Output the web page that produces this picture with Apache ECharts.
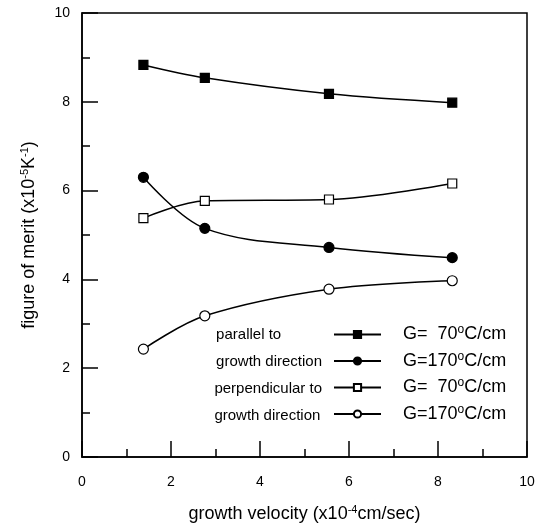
<!DOCTYPE html>
<html>
<head>
<meta charset="utf-8">
<script src="https://cdn.jsdelivr.net/npm/echarts@6/dist/echarts.min.js"></script>
<style>
  html, body { margin: 0; padding: 0; background: #fff; }
  #meritChart { width: 539px; height: 527px; }
</style>
</head>
<body>
<div id="meritChart"></div>
<script type="text/javascript">
// growth velocity (x10^-4 cm/sec)
const velocity = [1.38, 2.76, 5.55, 8.32]
// figure of merit (x10^-5 K^-1)
const parallel70 = [8.83, 8.54, 8.18, 7.98]
const parallel170 = [6.30, 5.15, 4.72, 4.49]
const perpendicular70 = [5.38, 5.77, 5.80, 6.16]
const perpendicular170 = [2.43, 3.18, 3.78, 3.97]
const tickValues = [0, 2, 4, 6, 8, 10]
const seriesNames = ['G=  70{o|o}C/cm', 'G=170{o|o}C/cm', 'G=  70{o|o}C/cm ', 'G=170{o|o}C/cm ']

const font = 'Liberation Sans, Arial, sans-serif'

const pairs = (ys) => velocity.map((x, i) => [x, ys[i]])

const lineSeries = (name, ys, symbol, filled, size) => ({
  name: name,
  type: 'line',
  smooth: 0.35,
  data: pairs(ys),
  symbol: symbol,
  symbolSize: size,
  showAllSymbol: true,
  lineStyle: { color: '#000', width: 1.5 },
  itemStyle: {
    color: filled ? '#000' : '#fff',
    borderColor: '#000',
    borderWidth: 1.2,
    opacity: 1
  },
  emphasis: { disabled: true },
  z: 3
})

const supStyle = (size) => ({ fontSize: size, verticalAlign: 'top', padding: [0, 0, 9, 0], fontFamily: font, color: '#000' })

const myChart = echarts.init(document.getElementById('meritChart'))
myChart.setOption({
  animation: false,
  backgroundColor: '#fff',
  textStyle: { fontFamily: font, color: '#000' },
  grid: {
    left: 82,
    right: 12,
    top: 13,
    bottom: 70,
    outerBoundsMode: 'none',
    containLabel: false,
    show: true,
    borderColor: '#000',
    borderWidth: 1.5,
    backgroundColor: 'transparent'
  },
  legend: {
    orient: 'vertical',
    left: 333,
    top: 324,
    padding: 0,
    itemWidth: 47,
    itemHeight: 9,
    itemGap: 7,
    selectedMode: false,
    data: seriesNames,
    textStyle: {
      fontFamily: font,
      fontSize: 18,
      color: '#000',
      padding: [0, 0, 0, 17],
      rich: { o: supStyle(12) }
    }
  },
  xAxis: {
    type: 'value',
    min: 0,
    max: 10,
    interval: 2,
    name: 'growth velocity (x10{s|-4}cm/sec)',
    nameLocation: 'middle',
    nameGap: 47,
    nameTextStyle: {
      fontFamily: font,
      fontSize: 18,
      color: '#000',
      rich: { s: supStyle(11) }
    },
    axisLine: { show: true, lineStyle: { color: '#000', width: 1.5 } },
    axisTick: { show: true, inside: true, length: 16, lineStyle: { color: '#000', width: 1.5 } },
    minorTick: { show: true, splitNumber: 2, length: 8, lineStyle: { color: '#000', width: 1.5 } },
    axisLabel: {
      margin: 18,
      fontSize: 14,
      color: '#000',
      formatter: (v) => (tickValues.includes(v) ? String(v) : '')
    },
    splitLine: { show: false }
  },
  yAxis: {
    type: 'value',
    min: 0,
    max: 10,
    interval: 2,
    name: 'figure of merit (x10{s|-5}K{s|-1})',
    nameLocation: 'middle',
    nameGap: 43,
    nameTextStyle: {
      fontFamily: font,
      fontSize: 18,
      color: '#000',
      rich: { s: supStyle(11) }
    },
    axisLine: { show: true, lineStyle: { color: '#000', width: 1.5 } },
    axisTick: { show: true, inside: true, length: 16, lineStyle: { color: '#000', width: 1.5 } },
    minorTick: { show: true, splitNumber: 2, length: 8, lineStyle: { color: '#000', width: 1.5 } },
    axisLabel: {
      margin: 12,
      fontSize: 14,
      color: '#000',
      formatter: (v) => (tickValues.includes(v) ? String(v) : '')
    },
    splitLine: { show: false }
  },
  graphic: [
    {
      type: 'text',
      right: 539 - 322,
      top: 321,
      style: {
        text: 'parallel to\ngrowth direction',
        font: '15px ' + font,
        fill: '#000',
        align: 'right',
        lineHeight: 27
      }
    },
    {
      type: 'text',
      right: 539 - 322,
      top: 375,
      style: {
        text: 'perpendicular to\ngrowth direction',
        font: '15px ' + font,
        fill: '#000',
        align: 'right',
        lineHeight: 27
      }
    }
  ],
  series: [
    lineSeries(seriesNames[0], parallel70, 'rect', true, 9),
    lineSeries(seriesNames[1], parallel170, 'circle', true, 10),
    lineSeries(seriesNames[2], perpendicular70, 'rect', false, 9),
    lineSeries(seriesNames[3], perpendicular170, 'circle', false, 10)
  ]
})
</script>
</body>
</html>
